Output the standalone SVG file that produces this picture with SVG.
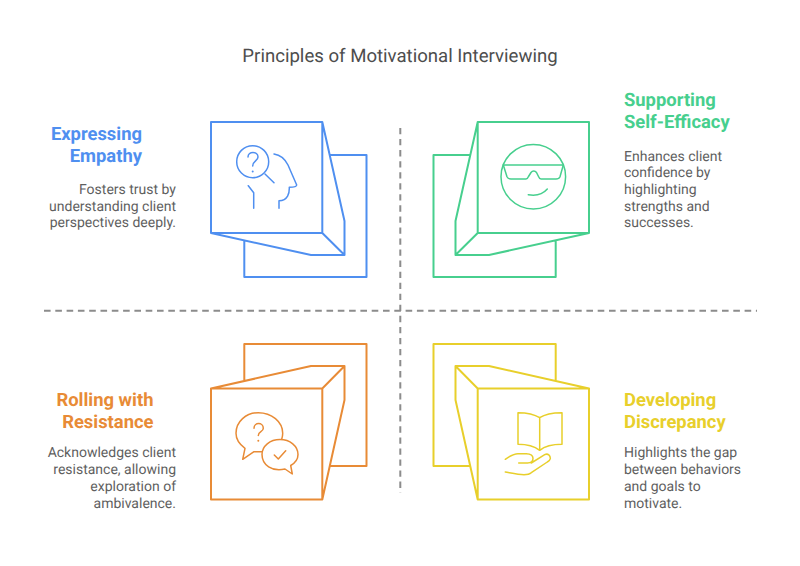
<svg xmlns="http://www.w3.org/2000/svg" width="800" height="566" viewBox="0 0 800 566">
<style>
text{font-family:Roboto,"Liberation Sans",sans-serif;text-rendering:geometricPrecision}
.t{font-size:18.600px;fill:#4d4d4d}
.h{font-size:18.400px;font-weight:700}
.b{font-size:14px;fill:#5f5f5f}
.e{text-anchor:end}
.s{fill:none;stroke-width:2;stroke-linejoin:round;stroke-linecap:round}
.i{fill:none;stroke-width:1.500;stroke-linejoin:round;stroke-linecap:round}
.d{stroke:#8c8c8c;stroke-width:2;fill:none}
.blue{stroke:#4f8ff0}.green{stroke:#47cf8e}.orange{stroke:#e88b36}.yellow{stroke:#e8cf2b}
</style>
<rect width="800" height="566" fill="#fff"/>
<text class="t" x="400" y="62" text-anchor="middle">Principles of Motivational Interviewing</text>
<g id="connectors">
<path class="d" stroke-dasharray="6.300 4.750" d="M400.300 128V493"/>
<path class="d" stroke-dasharray="6.600 4.700" d="M44 310.700H757"/>
</g>
<g id="empathy">
<path class="s blue" d="M330 155H366.500V277H244.300V241M211 122H322.300V233H211ZM322.300 122L344.500 221V255L322.300 233M211 233L311 255H344.500"/>
<path class="i blue" d="M265 174L274 182.700M274 154C281 155 285 159 288 165L296.700 185Q296.500 187.300 289.300 187.300C289.500 193 288 200.700 279 200.700V208.300M248.300 185.700L253.700 192.700V208.300"/>
<circle class="i blue" cx="252.700" cy="161.700" r="16"/>
<path class="i blue" d="M248 157C248 151 258 151 258 157C258 161 252.700 161 252.700 166"/>
<circle cx="252.700" cy="171.500" r="1" fill="#4f8ff0"/>
<text class="h e" fill="#4f8ff0" x="142" y="140">Expressing</text>
<text class="h e" fill="#4f8ff0" x="142" y="162">Empathy</text>
<text class="b e" x="176" y="194">Fosters trust by</text>
<text class="b e" x="176" y="210.500">understanding client</text>
<text class="b e" x="176" y="227">perspectives deeply.</text>
</g>
<g id="efficacy">
<path class="s green" d="M470 155H433.500V277H555.700V241M477.700 122H589V233H477.700ZM477.700 122L455.500 221V255L477.700 233M589 233L489 255H455.500"/>
<circle class="i green" cx="533.300" cy="176.700" r="32.300"/>
<path class="i green" d="M503.300 165H563.300M503.300 165L507 176.700Q508 179 511 179H526Q527.500 179 528.500 176.500L531 172.500C532.500 170.500 535 170.500 536.500 172.500L538.500 176.500Q539.500 179 541 179H556Q559 179 560 176.700L563.300 165M528.300 194.700C536 196 543 194 547.300 189"/>
<text class="h" fill="#47cf8e" x="624" y="106">Supporting</text>
<text class="h" fill="#47cf8e" x="624" y="128">Self-Efficacy</text>
<text class="b" x="624" y="160.500">Enhances client</text>
<text class="b" x="624" y="177">confidence by</text>
<text class="b" x="624" y="193.700">highlighting</text>
<text class="b" x="624" y="210.500">strengths and</text>
<text class="b" x="624" y="227">successes.</text>
</g>
<g id="resistance">
<path class="s orange" d="M244.300 380V344H366.500V466H330M211 388.500H322.300V499.500H211ZM322.300 499.500L344.500 400V366L322.300 388.500M211 388.500L311 366H344.500"/>
<path class="i orange" d="M261.700 451.700H254L242.700 459.300L245 448.300C239 444 236 439 236 433.300C236 421.500 246 412.700 258.300 412.700C271.500 412.700 282.700 421.500 282.700 433.300Q282.700 436.500 281.700 439.300"/>
<path class="i orange" d="M285 469C272 472 262 465 262 454.500C262 446 270 439.500 280 439.500C290 439.500 298 446 298 454.500C298 459 295 463 290.700 465.500L292.300 474Z"/>
<path class="i orange" d="M254 428.300C254 422 263.300 422 263.300 428.300C263.300 432 258.300 431.500 258.300 435.500M274.300 455L278.300 459L285.700 450.700"/>
<circle cx="258.300" cy="440.700" r="1" fill="#e88b36"/>
<text class="h e" fill="#e88b36" x="153.500" y="406">Rolling with</text>
<text class="h e" fill="#e88b36" x="153.500" y="428">Resistance</text>
<text class="b e" x="176" y="457">Acknowledges client</text>
<text class="b e" x="176" y="474">resistance, allowing</text>
<text class="b e" x="176" y="490.700">exploration of</text>
<text class="b e" x="176" y="507.500">ambivalence.</text>
</g>
<g id="discrepancy">
<path class="s yellow" d="M470 466H433.500V344H555.700V380M477.700 388.500H589V499.500H477.700ZM477.700 499.500L455.500 400V366L477.700 388.500M589 388.500L489 366H455.500"/>
<path class="i yellow" d="M539.700 417.700C534 414 526 412.700 518 412.700V444.300C526 444.300 534 446 539.700 450.300C545 446 553 444.300 562 444.300V412.700C553 412.700 545 414 539.700 417.700ZM539.700 417.700V450.300"/>
<path class="i yellow" d="M505.300 459.300C510 456 513 453.700 518 453.700H526.300Q533 454 533 458.300Q533 463 527.500 463H518.700M531.300 463L544.700 454.700C548 453 550.500 455.500 550.300 458.700Q550 460.500 547.300 462L531.300 472.700Q529 474.700 524 474.700C518 474.700 511 473 505.300 472"/>
<text class="h" fill="#e8cf2b" x="624" y="406">Developing</text>
<text class="h" fill="#e8cf2b" x="624" y="428">Discrepancy</text>
<text class="b" x="624" y="457">Highlights the gap</text>
<text class="b" x="624" y="474">between behaviors</text>
<text class="b" x="624" y="490.700">and goals to</text>
<text class="b" x="624" y="507.500">motivate.</text>
</g>
</svg>
